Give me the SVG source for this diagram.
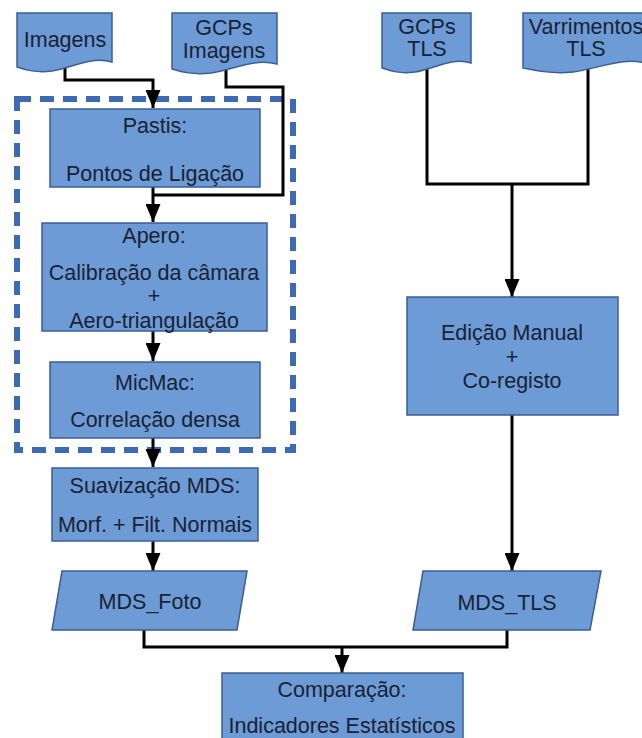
<svg xmlns="http://www.w3.org/2000/svg" width="642" height="738" viewBox="0 0 642 738">
<style>
.n{fill:#6c9bd6;stroke:#3a5e96;stroke-width:1.5}
.t{font-family:"Liberation Sans",Arial,sans-serif;font-size:21.5px;fill:#1a2233;text-anchor:middle}
.c{fill:none;stroke:#000;stroke-width:3}
.d{fill:none;stroke:#3d6bb3;stroke-width:6;stroke-dasharray:14 9}
</style>
<defs>
<marker id="ah" markerWidth="18" markerHeight="15" refX="18" refY="7.5" orient="auto" markerUnits="userSpaceOnUse" viewBox="0 0 18 15">
<path d="M0,0 L18,7.5 L0,15 Z" fill="#000"/>
</marker>
</defs>
<rect width="642" height="738" fill="#fff"/>
<g id="grupo">
<rect class="d" x="17" y="99" width="276" height="351"/>
</g>
<g id="connectors">
<path class="c" d="M65,68 V80 H153 V108" marker-end="url(#ah)"/>
<path class="c" d="M226,68 V87 H283 V195 H153"/>
<path class="c" d="M153,187 V222" marker-end="url(#ah)"/>
<path class="c" d="M153,331 V361" marker-end="url(#ah)"/>
<path class="c" d="M153,438 V467" marker-end="url(#ah)"/>
<path class="c" d="M153,541 V571" marker-end="url(#ah)"/>
<path class="c" d="M427,68 V184 H588 V68"/>
<path class="c" d="M512,184 V297" marker-end="url(#ah)"/>
<path class="c" d="M512,415 V571" marker-end="url(#ah)"/>
<path class="c" d="M144,630 V647 H507 V630"/>
<path class="c" d="M342,647 V673" marker-end="url(#ah)"/>
</g>
<g id="imagens">
<path class="n" d="M17,13 H112 V62 C90,56 72,68 52,71 C36,73 26,70 17,67 Z"/>
<text class="t" x="65" y="47">Imagens</text>
</g>
<g id="gcps-imagens">
<path class="n" d="M172,13 H277 V64 C253,58 233,70 211,73 C193,75 182,72 172,69 Z"/>
<text class="t" x="224" y="35">GCPs</text>
<text class="t" x="224" y="58">Imagens</text>
</g>
<g id="gcps-tls">
<path class="n" d="M382,13 H471 V63 C451,57 434,69 415,72 C400,74 391,71 382,68 Z"/>
<text class="t" x="427" y="34">GCPs</text>
<text class="t" x="427" y="56">TLS</text>
</g>
<g id="varrimentos-tls">
<path class="n" d="M523,13 H646 V63 C620,57 598,69 573,72 C553,74 538,71 523,68 Z"/>
<text class="t" x="586" y="34">Varrimentos</text>
<text class="t" x="586" y="56">TLS</text>
</g>
<g id="pastis">
<rect class="n" x="50" y="109" width="210" height="78"/>
<text class="t" x="155" y="133">Pastis:</text>
<text class="t" x="155" y="181">Pontos de Ligação</text>
</g>
<g id="apero">
<rect class="n" x="42" y="223" width="225" height="108"/>
<text class="t" x="154" y="243">Apero:</text>
<text class="t" x="154" y="280">Calibração da câmara</text>
<text class="t" x="154" y="303">+</text>
<text class="t" x="154" y="328">Aero-triangulação</text>
</g>
<g id="micmac">
<rect class="n" x="50" y="362" width="210" height="76"/>
<text class="t" x="155" y="390">MicMac:</text>
<text class="t" x="155" y="427">Correlação densa</text>
</g>
<g id="suavizacao">
<rect class="n" x="52" y="468" width="206" height="73"/>
<text class="t" x="155" y="493">Suavização MDS:</text>
<text class="t" x="155" y="532">Morf. + Filt. Normais</text>
</g>
<g id="mds-foto">
<path class="n" d="M62,571 H247 L237,630 H52 Z"/>
<text class="t" x="150" y="609">MDS_Foto</text>
</g>
<g id="edicao">
<rect class="n" x="407" y="297" width="211" height="118"/>
<text class="t" x="512" y="340">Edição Manual</text>
<text class="t" x="512" y="364">+</text>
<text class="t" x="512" y="388">Co-registo</text>
</g>
<g id="mds-tls">
<path class="n" d="M423,571 H601 L590,630 H413 Z"/>
<text class="t" x="507" y="610">MDS_TLS</text>
</g>
<g id="comparacao">
<rect class="n" x="222" y="673" width="241" height="70"/>
<text class="t" x="342" y="697">Comparação:</text>
<text class="t" x="342" y="733">Indicadores Estatísticos</text>
</g>
</svg>
